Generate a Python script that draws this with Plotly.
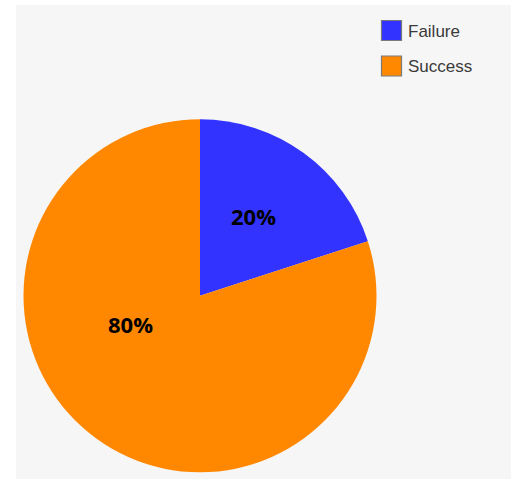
import plotly.graph_objects as go

labels = ["Failure", "Success"]
values = [20, 80]
colors = ["#3333ff", "#ff8800"]

W, H = 511, 479

def px(x):
    return x / W

def py(y):
    return 1 - y / H

fig = go.Figure()
fig.add_trace(go.Pie(
    labels=labels,
    values=values,
    marker=dict(colors=colors, line=dict(width=0)),
    sort=False,
    direction="clockwise",
    rotation=0,
    textinfo="none",
    domain=dict(x=[px(23.5), px(376.5)], y=[py(472.5), py(119)]),
    showlegend=False,
    hoverinfo="label+percent",
))

total = sum(values)
label_pos = [(253.5, 216.5), (130.5, 323.5)]

shapes = [dict(type="rect", xref="paper", yref="paper",
               x0=px(16), x1=1.0, y0=0.0, y1=py(5),
               fillcolor="#f6f6f6", line=dict(width=0), layer="below")]
annotations = []
for i, (lab, col, val) in enumerate(zip(labels, colors, values)):
    top = 20.5 + 35.5 * i
    shapes.append(dict(type="rect", xref="paper", yref="paper",
                       x0=px(381.5), x1=px(401.5), y0=py(top + 20), y1=py(top),
                       fillcolor=col, line=dict(color="#7a7a7a", width=1.2)))
    annotations.append(dict(xref="paper", yref="paper", x=px(405.5), y=py(top + 10.5),
                            xanchor="left", yanchor="middle", text=lab, showarrow=False,
                            font=dict(family="Liberation Sans, Arial", size=17, color="#3a3a3a")))
    lx, ly = label_pos[i]
    annotations.append(dict(xref="paper", yref="paper", x=px(lx), y=py(ly),
                            xanchor="center", yanchor="middle",
                            text=f"<b>{val / total * 100:.0f}%</b>", showarrow=False,
                            font=dict(family="Open Sans", size=22, color="black")))

fig.update_layout(
    width=W, height=H,
    margin=dict(l=0, r=0, t=0, b=0),
    paper_bgcolor="white",
    plot_bgcolor="white",
    shapes=shapes,
    annotations=annotations,
)

fig.write_html("out.html",
               config={"displayModeBar": False},
               post_script=("document.documentElement.style.overflow='hidden';"
                            "document.body.style.margin='0';"
                            "document.body.style.overflow='hidden';"))
